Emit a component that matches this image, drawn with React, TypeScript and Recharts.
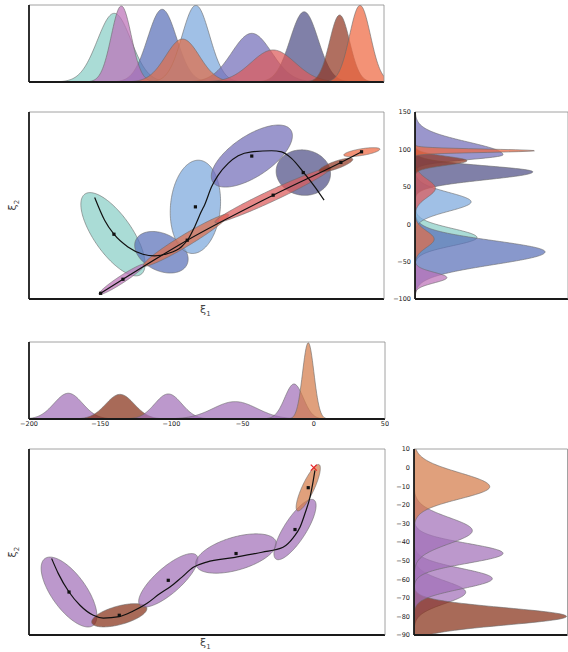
import React from 'react';
import { ComposedChart, Area, Line, Scatter, XAxis, YAxis } from 'recharts';

// ---------- upper figure: two models, ten gaussians ----------
const topNames = ['teal', 'blue', 'skyBlue', 'violet', 'slate', 'pink', 'salmon', 'red', 'brown', 'coral'];

// marginal along xi1 (top strip)
const topMarMeans = [-104, -50, -12, 51, 110, -96, -27, 75, 150, 173];
const topMarSigmas = [19, 16.3, 15.5, 22.5, 15.8, 11.3, 19, 24.8, 11.3, 11.8];
const topMarHeights = [4.46, 4.72, 4.98, 3.16, 4.56, 4.94, 2.79, 2.08, 4.35, 4.98];

// marginal along xi2 (right strip)
const rightTopMeans = [-17.8, -37, 29.9, 92.8, 70, -71.4, -20, 48, 84.8, 98.2];
const rightTopUp = [12, 15, 12.5, 17, 8, 7, 11, 12, 6, 2.2];
const rightTopDown = [11, 17, 12.5, 6.5, 10.5, 7, 11, 12, 6, 2.2];
const rightTopPeaks = [2.43, 5.1, 2.2, 3.45, 4.62, 1.25, 0.75, 0.8, 2.04, 4.7];

// ellipses: centre + two conjugate semi-axes, data units
const topEllCx = [-105.4, -50.8, -12.5, 51.1, 109.1, -95.3, -23.2, 74.8, 145.7, 175];
const topEllCy = [-13.4, -37.5, 23.2, 91.1, 69, -73.6, -21.4, 38.8, 79, 96.4];
const topEllMx = [31.6, 28.7, -4.5, 43.9, 30.4, 25.9, 47.9, 65.3, 19.1, 20.3];
const topEllMy = [-53.7, -16.7, -62.3, 34.8, -5.4, 20.1, 34.2, 36.2, 8.0, 4.0];
const topEllNx = [-17.6, -9.1, 28.0, 12.7, -3.7, 2.2, 3.4, 2.6, 1.4, 0.6];
const topEllNy = [-14.6, -22.2, -2.9, -22.6, -29.9, -4.0, -6.8, -6.7, -4.8, -4.4];

const topCurveX = [-126.0, -114.8, -104.3, -88.5, -71.6, -58.4, -43.5, -28.5, -20.9, -13.4, -6.0, -1.8, 5.7, 13.2, 24.4, 35.7, 50.8, 73.3, 84.6, 95.8, 108.9, 122.1, 132.5];
const topCurveY = [35.8, 5.4, -13.4, -30.4, -40.2, -42.4, -39.2, -30.4, -20.5, -3.6, 16.5, 26.8, 50, 65.6, 81.3, 91.5, 96.8, 98.2, 96.8, 88, 70, 50, 32.2];

const topLineX = [-119.3, -94.1, -21.7, 75.1, 151.4, 174.7];
const topLineY = [-92.4, -73.6, -21.4, 38.8, 82.6, 96.8];

const topMarkX = [-104.3, -12.5, 51, 109, -119.3, -94.1, -21.7, 75.1, 151.4, 174.7];
const topMarkY = [-13.4, 23.2, 91.1, 69, -92.4, -73.6, -21.4, 38.8, 82.6, 96.8];

// ---------- lower figure: one model, six gaussians ----------
const botNames = ['purple1', 'brown', 'purple2', 'purple3', 'purple4', 'orange'];

const botMarMeans = [-172.4, -136.1, -102.2, -55.3, -13.9, -3.9];
const botMarSigmas = [10, 10, 9.5, 15.5, 6.5, 4];
const botMarHeights = [1.84, 1.76, 1.79, 1.24, 2.5, 5.45];

const rightBotMeans = [-67, -80, -59.7, -46.1, -33.9, -10.3];
const rightBotUp = [6, 4.6, 5.5, 5.3, 7, 7.5];
const rightBotDown = [6, 4.6, 5.5, 5.3, 7, 6.5];
const rightBotPeaks = [2.02, 5.96, 3.06, 3.48, 2.28, 2.96];

const botEllCx = [-171.9, -136.6, -102.2, -54.6, -13.2, -3.9];
const botEllCy = [-66.9, -79.4, -60.6, -46.2, -33.3, -10.8];
const botEllMx = [16.9, 19.3, 19.9, 28.1, 13.3, 7.6];
const botEllMy = [-18.0, 4.0, 13.4, 6.3, 15.9, 12.4];
const botEllNx = [-9.9, 1.7, 6.0, 3.2, 6.5, 3.8];
const botEllNy = [-5.4, -4.8, -5.2, -8.5, -3.2, -1.4];

const botCurveX = [-184.1, -179.4, -171.9, -164.2, -154.8, -147.8, -136.6, -126.8, -117.3, -108, -101, -92.8, -84.6, -75.2, -56.5, -36.4, -21.6, -14.4, -9.7, -6.2, -2.7, -0.6, 0.8];
const botCurveY = [-48.9, -57, -66.9, -74, -79.4, -80.9, -80.1, -77.1, -73.1, -67.7, -64.2, -59, -53.6, -50.8, -48.4, -45.5, -42.8, -37.6, -32.1, -24.7, -16, -7.9, -1.5];

const botMarkX = [-171.9, -136.6, -102.2, -54.6, -13.2, -3.9];
const botMarkY = [-66.9, -79.4, -60.6, -46.2, -33.3, -10.8];
const goalX = [0];
const goalY = [0];

// ticks
const topXTicks = [-150, -100, -50, 0, 50, 100, 150];
const topMarYTicks = [1, 2, 3, 4];
const topMainYTicks = [-50, 0, 50, 100];
const rightXTicks = [1, 2, 3, 4, 5];
const rightTopLabels = [-100, -50, 0, 50, 100, 150];
const midXLabels = [-200, -150, -100, -50, 0, 50];
const midXTicks = [-150, -100, -50, 0];
const midYTicks = [1, 2, 3, 4, 5];
const botMainYTicks = [-80, -70, -60, -50, -40, -30, -20, -10, 0];
const rightBotLabels = [-90, -80, -70, -60, -50, -40, -30, -20, -10, 0, 10];

const colors: Record<string, string> = {
  teal: '#89cec6', blue: '#5a70b8', skyBlue: '#7ba7dc', violet: '#736db8', slate: '#4f4f86',
  pink: '#bc71b8', salmon: '#df6d49', red: '#dc5a5a', brown: '#913822', coral: '#ee6841',
  purple1: '#a270b8', purple2: '#a270b8', purple3: '#a270b8', purple4: '#a270b8', orange: '#d47b49',
};
const botBrown = '#863017';

const range = (a: number, b: number, step: number) => {
  const out: number[] = [];
  for (let v = a; v <= b + 1e-9; v += step) out.push(+v.toFixed(3));
  return out;
};

const bell = (v: number, mean: number, up: number, down: number, peak: number) => {
  const s = v >= mean ? up : down;
  return peak * Math.exp(-0.5 * ((v - mean) / s) ** 2);
};

const topMarRows = range(-200, 200, 1).map((x) => {
  const row: Record<string, number> = { x };
  topNames.forEach((n, i) => { row[n] = bell(x, topMarMeans[i], topMarSigmas[i], topMarSigmas[i], topMarHeights[i]); });
  return row;
});
const rightTopRows = range(-100, 150, 0.5).map((y) => {
  const row: Record<string, number> = { y };
  topNames.forEach((n, i) => { row[n] = bell(y, rightTopMeans[i], rightTopUp[i], rightTopDown[i], rightTopPeaks[i]); });
  return row;
});
const midMarRows = range(-200, 50, 0.5).map((x) => {
  const row: Record<string, number> = { x };
  botNames.forEach((n, i) => { row[n] = bell(x, botMarMeans[i], botMarSigmas[i], botMarSigmas[i], botMarHeights[i]); });
  return row;
});
const rightBotRows = range(-90, 10, 0.25).map((y) => {
  const row: Record<string, number> = { y };
  botNames.forEach((n, i) => { row[n] = bell(y, rightBotMeans[i], rightBotUp[i], rightBotDown[i], rightBotPeaks[i]); });
  return row;
});

// upper/lower edge of an ellipse for every x, as a range area
function ellipseRows(cx: number, cy: number, mx: number, my: number, nx: number, ny: number) {
  const R = Math.hypot(mx, nx);
  const a = Math.atan2(nx, mx);
  const rows: { x: number; r: [number, number] }[] = [];
  for (let k = 0; k <= 90; k++) {
    const s = Math.PI * (1 - k / 90);
    const y1 = cy + my * Math.cos(s + a) + ny * Math.sin(s + a);
    const y2 = cy + my * Math.cos(a - s) + ny * Math.sin(a - s);
    rows.push({ x: cx + R * Math.cos(s), r: [Math.min(y1, y2), Math.max(y1, y2)] });
  }
  return rows;
}

const toRows = (xs: number[], ys: number[]) => xs.map((x, i) => ({ x, y: ys[i] }));

// ---------- styling ----------
const M = { top: 4, right: 4, bottom: 14, left: 24 };
const heavy = { stroke: '#1a1a1a', strokeWidth: 1.8 };
const light = { stroke: '#8a8a8a', strokeWidth: 0.8 };
const tickLn = { stroke: '#777', strokeWidth: 0.7 };
const labelTick = { fontSize: 6.5, fill: '#222', fontFamily: 'DejaVu Sans' };
const FILL_OP = 0.72;
const minus = (v: number) => String(v).replace('-', '\u2212');

// four-sided frame, ticks pointing inwards (mirrored axes take no room)
function frame(xDom: number[], yDom: number[], xTicks: number[], yTicks: number[], xKey?: string, yKey?: string, flipY = false) {
  return [
    <XAxis key="xb" type="number" dataKey={xKey} domain={xDom} ticks={xTicks} allowDataOverflow mirror tick={false} tickLine={tickLn} tickSize={4} axisLine={heavy} interval={0} />,
    <XAxis key="xt" xAxisId="t" orientation="top" type="number" dataKey={xKey} domain={xDom} ticks={xTicks} allowDataOverflow mirror tick={false} tickLine={tickLn} tickSize={4} axisLine={light} interval={0} />,
    <YAxis key="yl" type="number" dataKey={yKey} domain={yDom} ticks={yTicks} allowDataOverflow mirror reversed={flipY} tick={false} tickLine={tickLn} tickSize={4} axisLine={heavy} interval={0} />,
    <YAxis key="yr" yAxisId="r" orientation="right" type="number" dataKey={yKey} domain={yDom} ticks={yTicks} allowDataOverflow mirror reversed={flipY} tick={false} tickLine={tickLn} tickSize={4} axisLine={light} interval={0} />,
  ];
}

const square = (p: any) => <rect x={p.cx - 1.6} y={p.cy - 1.6} width={3.2} height={3.2} fill="#111" />;
const cross = (p: any) => (
  <g stroke="#e8262a" strokeWidth={1.3}>
    <line x1={p.cx - 3} y1={p.cy - 3} x2={p.cx + 3} y2={p.cy + 3} />
    <line x1={p.cx - 3} y1={p.cy + 3} x2={p.cx + 3} y2={p.cy - 3} />
  </g>
);

function Panel({ x0, y0, children }: { x0: number; y0: number; children: React.ReactNode }) {
  return <div style={{ position: 'absolute', left: x0 - M.left, top: y0 - M.top }}>{children}</div>;
}

const chartSize = (w: number, h: number) => ({ width: w + M.left + M.right, height: h + M.top + M.bottom });

function marginalAreas(names: string[], lower = false) {
  return names.map((n) => (
    <Area key={n} dataKey={n} type="linear" fill={lower && n === 'brown' ? botBrown : colors[n]} fillOpacity={FILL_OP} stroke="#6a6a6a" strokeWidth={0.6} dot={false} activeDot={false} isAnimationActive={false} />
  ));
}

function ellipseAreas(names: string[], cx: number[], cy: number[], mx: number[], my: number[], nx: number[], ny: number[], lower = false) {
  return names.map((n, i) => (
    <Area key={'e' + n} data={ellipseRows(cx[i], cy[i], mx[i], my[i], nx[i], ny[i])} dataKey="r" type="linear" fill={lower && n === 'brown' ? botBrown : colors[n]} fillOpacity={FILL_OP} stroke="#6a6a6a" strokeWidth={0.6} dot={false} activeDot={false} isAnimationActive={false} />
  ));
}

const axisText: React.CSSProperties = { position: 'absolute', font: '11px "DejaVu Sans"', color: '#444', lineHeight: '12px', whiteSpace: 'nowrap' };

export default function App() {
  return (
    <div style={{ position: 'absolute', left: 0, top: 0, width: 568, height: 652, overflow: 'hidden', background: '#fff' }}>
      {/* top strip: xi1 marginal */}
      <Panel x0={29} y0={5}>
        <ComposedChart {...chartSize(355, 77)} margin={M} data={topMarRows}>
          {frame([-200, 200], [0, 5], topXTicks, topMarYTicks, 'x')}
          {marginalAreas(topNames)}
        </ComposedChart>
      </Panel>

      {/* upper main panel */}
      <Panel x0={29} y0={112}>
        <ComposedChart {...chartSize(355, 187)} margin={M}>
          {frame([-200, 200], [-100, 150], topXTicks, topMainYTicks, 'x', 'y')}
          {ellipseAreas(topNames, topEllCx, topEllCy, topEllMx, topEllMy, topEllNx, topEllNy)}
          <Line data={toRows(topLineX, topLineY)} dataKey="y" type="monotone" stroke="#111" strokeWidth={1.2} dot={false} activeDot={false} isAnimationActive={false} />
          <Line data={toRows(topCurveX, topCurveY)} dataKey="y" type="monotone" stroke="#111" strokeWidth={1.2} dot={false} activeDot={false} isAnimationActive={false} />
          <Scatter data={toRows(topMarkX, topMarkY)} shape={square} isAnimationActive={false} />
        </ComposedChart>
      </Panel>

      {/* upper right strip: xi2 marginal */}
      <Panel x0={415} y0={112}>
        <ComposedChart {...chartSize(153, 187)} margin={{ ...M, left: 4 }} data={rightTopRows} layout="vertical">
          {frame([0, 6], [-100, 150], rightXTicks, topMainYTicks, undefined, 'y', true)}
          <YAxis yAxisId="lab" type="number" dataKey="y" domain={[-100, 150]} ticks={rightTopLabels} allowDataOverflow reversed width={20} tickLine={false} axisLine={false} tickSize={0} tickMargin={4} tick={labelTick} tickFormatter={minus} interval={0} />
          {marginalAreas(topNames)}
        </ComposedChart>
      </Panel>

      {/* middle strip: xi1 marginal of lower model */}
      <Panel x0={29} y0={342}>
        <ComposedChart {...chartSize(356, 77)} margin={{ ...M, bottom: 2 }} data={midMarRows}>
          {frame([-200, 50], [0, 5.5], midXTicks, midYTicks, 'x')}
          <XAxis xAxisId="lab" type="number" dataKey="x" domain={[-200, 50]} ticks={midXLabels} allowDataOverflow height={12} tickLine={false} axisLine={false} tickSize={0} tickMargin={2} tick={labelTick} tickFormatter={minus} interval={0} />
          {marginalAreas(botNames, true)}
        </ComposedChart>
      </Panel>

      {/* lower main panel */}
      <Panel x0={29} y0={449}>
        <ComposedChart {...chartSize(356, 186)} margin={M}>
          {frame([-200, 50], [-90, 10], midXTicks, botMainYTicks, 'x', 'y')}
          {ellipseAreas(botNames, botEllCx, botEllCy, botEllMx, botEllMy, botEllNx, botEllNy, true)}
          <Line data={toRows(botCurveX, botCurveY)} dataKey="y" type="monotone" stroke="#111" strokeWidth={1.2} dot={false} activeDot={false} isAnimationActive={false} />
          <Scatter data={toRows(botMarkX, botMarkY)} shape={square} isAnimationActive={false} />
          <Scatter data={toRows(goalX, goalY)} shape={cross} isAnimationActive={false} />
        </ComposedChart>
      </Panel>

      {/* lower right strip */}
      <Panel x0={413.5} y0={449}>
        <ComposedChart {...chartSize(153.5, 186)} margin={{ ...M, left: 4 }} data={rightBotRows} layout="vertical">
          {frame([0, 6], [-90, 10], rightXTicks, botMainYTicks, undefined, 'y', true)}
          <YAxis yAxisId="lab" type="number" dataKey="y" domain={[-90, 10]} ticks={rightBotLabels} allowDataOverflow reversed width={20} tickLine={false} axisLine={false} tickSize={0} tickMargin={4} tick={labelTick} tickFormatter={minus} interval={0} />
          {marginalAreas(botNames, true)}
        </ComposedChart>
      </Panel>

      <div style={{ ...axisText, left: 200, top: 304 }}>ξ<sub style={{ fontSize: 7 }}>1</sub></div>
      <div style={{ ...axisText, left: 200, top: 637 }}>ξ<sub style={{ fontSize: 7 }}>1</sub></div>
      <div style={{ ...axisText, left: 10, top: 197, transform: 'rotate(-90deg)' }}>ξ<sub style={{ fontSize: 7 }}>2</sub></div>
      <div style={{ ...axisText, left: 10, top: 544, transform: 'rotate(-90deg)' }}>ξ<sub style={{ fontSize: 7 }}>2</sub></div>
    </div>
  );
}
